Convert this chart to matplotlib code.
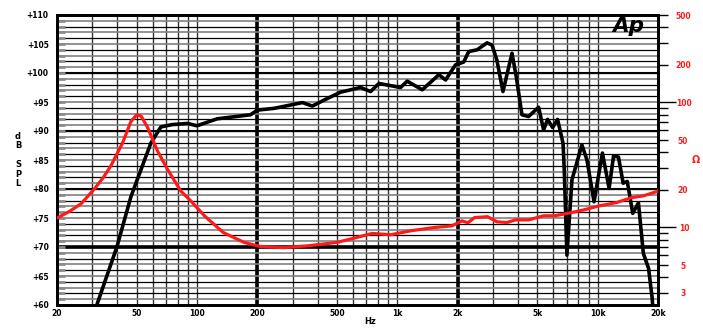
import matplotlib
matplotlib.use('Agg')
import matplotlib.pyplot as plt
from matplotlib.ticker import FixedLocator, FuncFormatter

# frequency response (black) - Hz / dB SPL
freq_spl = [31.6, 39.8, 46.8, 58.8, 66, 75, 89.6, 100, 126, 185,
            200, 242, 336, 376, 447, 521, 655, 735, 809, 1037,
            1120, 1331, 1611, 1740, 1950, 2145, 2271, 2500, 2805, 2970,
            3140, 3366, 3734, 3920, 4187, 4517, 5070, 5370, 5622, 5955,
            6307, 6713, 6810, 7020, 7440, 8340, 8840, 9590, 10560, 11400,
            12000, 12700, 13400, 14050, 14960, 15970, 16900, 17950, 18700, 19000]
spl = [60, 70, 78.7, 87.9, 90.7, 91.1, 91.3, 90.9, 92.1, 92.8,
       93.6, 93.9, 94.9, 94.3, 95.6, 96.7, 97.5, 96.8, 98.2, 97.5,
       98.6, 97.1, 99.7, 98.8, 101.4, 101.9, 103.7, 104.0, 105.2, 104.8,
       102.2, 96.8, 103.4, 99.4, 92.8, 92.5, 94.1, 90.2, 92.0, 90.6,
       92.0, 87.9, 83.3, 68.6, 81.6, 87.6, 85.0, 77.8, 86.2, 80.1,
       85.7, 85.5, 81.0, 81.3, 75.8, 77.6, 68.9, 66.3, 61.2, 58]

# impedance (red) - Hz / ohm
freq_z = [20, 23, 26.4, 30.7, 34, 37.1, 42.5, 46.8, 50.1, 52.7, 56.8, 63.6,
          71.3, 82.9, 93.1, 108.9, 135, 172, 207, 270, 356, 500,
          585, 749, 928, 1170, 1536, 1870, 2100, 2250, 2430, 2820,
          3140, 3520, 3900, 4520, 5370, 6100, 7300, 8480, 10200, 12400,
          14700, 16900, 19800, 20000]
z = [11.9, 13.4, 15.5, 20.3, 25, 31, 47.4, 70.6, 79.8, 77.4, 62.5, 40.7,
     29.1, 19.6, 16.3, 12.4, 9.13, 7.59, 7.05, 6.9, 7.13, 7.6,
     8.09, 8.96, 8.75, 9.42, 10, 10.3, 11.3, 10.9, 12.0, 12.2,
     11.1, 10.96, 11.5, 11.5, 12.4, 12.4, 13.1, 13.8, 14.9, 15.8,
     17.3, 17.9, 19.4, 19.6]

x_ticks = [20, 50, 100, 200, 500, 1000, 2000, 5000, 10000, 20000]
x_labels = ['20', '50', '100', '200', '500', '1k', '2k', '5k', '10k', '20k']
x_grid = ([20, 30, 40, 50, 60, 70, 80, 90, 100] + list(range(200, 1001, 100))
          + list(range(2000, 10001, 1000)) + [20000])
spl_ticks = list(range(60, 111, 5))
z_major = [10, 100]
z_minor = [3, 4, 5, 6, 7, 8, 9, 20, 30, 40, 50, 60, 70, 80, 90, 200, 300, 400, 500]
z_labeled = [3, 5, 20, 50, 200, 500]

plt.rcParams['font.family'] = ['DejaVu Sans']
plt.rcParams['font.weight'] = 'bold'

fig = plt.figure(figsize=(7.03, 3.33), dpi=100)
ax = fig.add_axes([57 / 703, 28 / 333, 601 / 703, 290 / 333])
ax.set_xscale('log')
ax.set_xlim(20, 20000)
ax.set_ylim(60, 110)

# grid
for f in x_grid:
    ax.axvline(f, color='0.2', lw=1.0, zorder=1)
for f in [200, 2000]:
    ax.axvline(f, color='black', lw=2.6, zorder=1)
for v in range(61, 110):
    ax.axhline(v, color='black' if v % 2 == 0 else '0.5',
               lw=0.9 if v % 2 == 0 else 1.2, zorder=1)
for v in [80, 90, 100]:
    ax.axhline(v, color='black', lw=1.5, zorder=1)
ax.axhline(70, color='black', lw=2.6, zorder=1)

ax.plot(freq_spl, spl, color='black', lw=2.6, zorder=4, solid_joinstyle='round')

ax.xaxis.set_major_locator(FixedLocator(x_ticks))
ax.xaxis.set_minor_locator(FixedLocator([]))
ax.set_xticklabels(x_labels)
ax.tick_params(axis='x', which='both', length=0, pad=3, labelsize=5.5)
ax.set_yticks(spl_ticks)
ax.set_yticklabels(['+%d' % v for v in spl_ticks])
ax.yaxis.set_minor_locator(FixedLocator(range(60, 111)))
ax.tick_params(axis='y', which='both', direction='in', length=6, width=2,
               color='0.55', labelsize=5.5, pad=6)

for s in ax.spines.values():
    s.set_linewidth(2)

# impedance axis
ax2 = ax.twinx()
ax2.set_yscale('log')
ax2.set_ylim(2.4, 500)
ax2.plot(freq_z, z, color='#ff1a1a', lw=2.3, zorder=5, solid_joinstyle='round')
ax2.yaxis.set_major_locator(FixedLocator(z_major))
ax2.yaxis.set_minor_locator(FixedLocator(z_minor))
ax2.yaxis.set_major_formatter(FuncFormatter(lambda v, p: '%g' % v))
ax2.yaxis.set_minor_formatter(FuncFormatter(
    lambda v, p: ('%g' % v) if round(v) in z_labeled else ''))
ax2.tick_params(axis='y', which='major', direction='out', length=13, width=1,
                color='black', labelcolor='#ff1a1a', labelsize=5.5, pad=6)
ax2.tick_params(axis='y', which='minor', direction='out', length=7, width=1,
                color='black', labelcolor='#ff1a1a', labelsize=5.5, pad=11)
for lab in ax2.get_yticklabels(which='both'):
    lab.set_ha('center')
for s in ax2.spines.values():
    s.set_linewidth(2)

ax.text(0.978, 0.995, 'Ap', transform=ax.transAxes, ha='right', va='top',
        fontsize=15.5, fontweight='heavy', style='italic', zorder=6)

fig.text(18 / 703, 1 - 160 / 333, 'd\nB\n\nS\nP\nL', ha='center', va='center',
         fontsize=6, fontweight='bold', linespacing=1.05)
fig.text(696 / 703, 1 - 160 / 333, '\u03a9', ha='center', va='center',
         fontsize=7, fontweight='bold', color='#ff1a1a')
fig.text(370 / 703, 1 - 322 / 333, 'Hz', ha='center', va='center',
         fontsize=6, fontweight='bold')

fig.savefig('out.png', dpi=100)
